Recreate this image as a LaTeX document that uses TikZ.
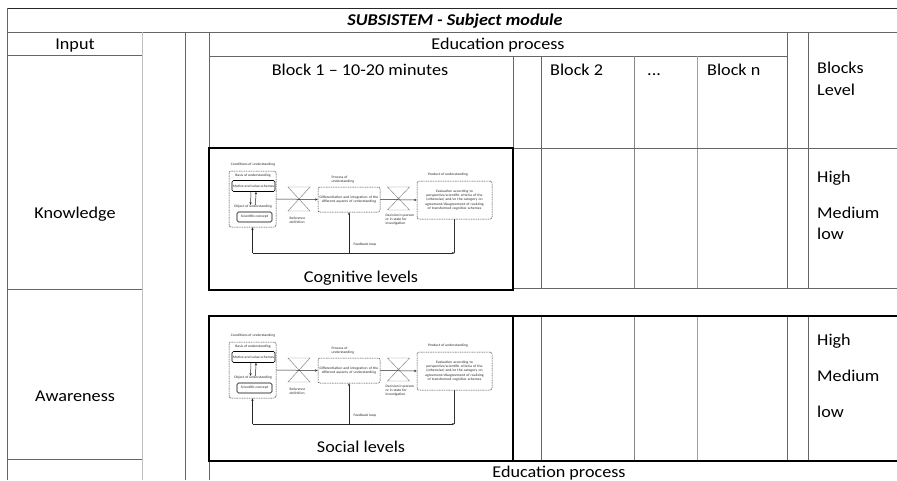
\documentclass[tikz,border=0pt]{standalone}
\usepackage{fontspec}
\setmainfont{Carlito}[FakeStretch=1.1]
\usetikzlibrary{arrows.meta}
\tikzset{
  grid/.style={draw=black!60,line width=0.85pt},
  lightgrid/.style={draw=black!25,line width=0.85pt},
  heavy/.style={draw=black,line width=2.4pt},
  txt/.style={font=\fontsize{16.5}{19}\selectfont,inner sep=0pt},
  tiny/.style={font=\fontsize{3.5}{4.1}\selectfont,execute at begin node={\hyphenpenalty=10000\relax},inner sep=0.4pt,align=center,text=black!85},
  dbox/.style={draw=black!80,dash pattern=on 1pt off 0.7pt,rounded corners=2pt,line width=0.5pt},
  sbox/.style={draw=black,rounded corners=1.5pt,line width=0.6pt},
  arr/.style={-{Stealth[length=2.6pt,width=2.2pt]},line width=0.5pt,draw=black!85},
  fbline/.style={line width=0.6pt,draw=black!80},
  hg/.style={draw=black!50,line width=0.45pt}
}
\newcommand{\drawminidiag}[1]{%
  \node[tiny] (#1cond) at (44,17) {Conditions of understanding};
  \node[dbox,minimum width=47pt,minimum height=56pt] (#1lb) at (43.5,51) {};
  \node[tiny] (#1basis) at (44,28) {Basis of understanding};
  \node[sbox,tiny,minimum width=43pt,minimum height=11pt] (#1mot) at (44.5,38) {Motive and value schemes};
  \node[tiny] (#1obj) at (44,59) {Object of understanding};
  \node[sbox,tiny,minimum width=35pt,minimum height=10pt] (#1sci) at (45.5,69) {Scientific concept};
  \draw[arr] ([xshift=-2.5pt]#1mot.south) -- ([xshift=-2.5pt]#1obj.north);
  \draw[arr] ([xshift=2.5pt]#1obj.north) -- ([xshift=2.5pt]#1mot.south);
  \draw[hg] (79,39) -- (101,39) -- (79,63) -- (101,63) -- cycle;
  \node[tiny,anchor=north west,align=left] (#1ref) at (80,68) {Reference\\definition};
  \node[dbox,tiny,text width=59pt,minimum width=62pt,minimum height=25pt] (#1mb) at (140,51.5) {Differentiation and integration of the different aspects of understanding};
  \node[tiny,anchor=south west,align=left] (#1proc) at (122,36) {Process of\\understanding};
  \draw[hg] (178.5,39) -- (200.5,39) -- (178.5,62) -- (200.5,62) -- cycle;
  \node[tiny,anchor=north west,align=left] (#1dec) at (176,65) {Decision in person\\or in state for\\investigation};
  \node[dbox,tiny,text width=70pt,minimum width=75pt,minimum height=38pt] (#1rb) at (245.5,52) {Evaluation according to perspective/scientific criteria of the (otherwise) and/or the category on agreement/disagreement of realizing of transformed cognitive schemes};
  \node[tiny] (#1prod) at (239,27) {Product of understanding};
  \draw[arr] (#1lb.east) -- (#1mb.west);
  \draw[arr] (#1mb.east) -- (#1rb.west);
  \coordinate (#1fr) at (245.5,105);
  \coordinate (#1fl) at (43.5,105);
  \coordinate (#1fm) at (140,105);
  \draw[fbline] (#1rb.south) -- (#1fr);
  \draw[fbline,arr] (#1fl) -- (#1fr);
  \draw[fbline,arr] (#1fl) -- (#1lb.south);
  \draw[fbline,arr] (#1fm) -- (#1mb.south);
  \node[tiny,anchor=west] (#1fbl) at (144,97) {Feedback loop};
}
\begin{document}
\begin{tikzpicture}[x=1pt,y=-1pt]
\useasboundingbox[fill=white] (0,0) rectangle (897,480);
% --- table grid ---
\draw[grid,draw=black!85] (7,8) -- (897,8);
\draw[grid] (7,8) -- (7,480);
\draw[grid] (7,32) -- (897,32);
\draw[grid] (7,55) -- (142,55);
\draw[grid] (7,289) -- (142,289);
\draw[grid] (7,459) -- (142,459);
\draw[lightgrid] (142,32) -- (142,480);
\draw[grid] (185,32) -- (185,480);
\draw[grid] (209,32) -- (209,148);
\draw[grid] (209,461) -- (209,480);
\draw[grid] (209,56) -- (787,56);
\draw[grid] (513,56) -- (513,148);
\draw[grid] (541,56) -- (541,288);
\draw[grid,draw=black!48] (634,56) -- (634,288);
\draw[grid,draw=black!38] (697,56) -- (697,288);
\draw[grid] (787,32) -- (787,288);
\draw[grid] (808,32) -- (808,288);
\draw[grid] (513,148) -- (897,148);
\draw[grid] (513,288) -- (897,288);
\draw[grid] (541,316) -- (541,461);
\draw[grid,draw=black!48] (634,316) -- (634,461);
\draw[grid,draw=black!38] (697,316) -- (697,461);
\draw[grid] (787,316) -- (787,461);
\draw[grid] (808,316) -- (808,461);
% --- heavy frames ---
\draw[heavy] (209,148) rectangle (513,290);
\draw[heavy] (209,316) rectangle (513,461);
\draw[heavy] (513,316) -- (900,316);
\draw[heavy] (513,461) -- (900,461);
% --- texts ---
\node[txt,anchor=base] (title) at (455,25.5) {\bfseries\itshape SUBSISTEM - Subject module};
\node[txt,anchor=base] (input) at (75,49.5) {Input};
\node[txt,anchor=base] (edu) at (498,49.5) {Education process};
\node[txt,anchor=base] (b1) at (360,75.5) {Block 1 – 10-20 minutes};
\node[txt,anchor=base west] (b2) at (550,75.5) {Block 2};
\node[txt,anchor=base west] (dots) at (647,75.5) {...};
\node[txt,anchor=base west] (bn) at (707,75.5) {Block n};
\node[txt,anchor=base west] (blocks) at (817,73.5) {Blocks};
\node[txt,anchor=base west] (level) at (817,95.5) {Level};
\node[txt,anchor=base west] (kh) at (817,182.5) {High};
\node[txt,anchor=base west] (km) at (817,218.5) {Medium};
\node[txt,anchor=base west] (kl) at (817,239.5) {low};
\node[txt,anchor=base west] (sh) at (817,345.5) {High};
\node[txt,anchor=base west] (sm) at (817,381.5) {Medium};
\node[txt,anchor=base west] (sl) at (817,417.5) {low};
\node[txt,anchor=base] (know) at (75,218.5) {Knowledge};
\node[txt,anchor=base] (aware) at (75,401.5) {Awareness};
\node[txt,anchor=base] (coglev) at (361,282.5) {Cognitive levels};
\node[txt,anchor=base] (soclev) at (361,452.5) {Social levels};
\node[txt,anchor=base] (edu2) at (559,477.5) {Education process};
% --- mini diagrams ---
\begin{scope}[shift={(209,148)}]
  \drawminidiag{c}
\end{scope}
\begin{scope}[shift={(209,319)}]
  \drawminidiag{s}
\end{scope}
\end{tikzpicture}
\end{document}
